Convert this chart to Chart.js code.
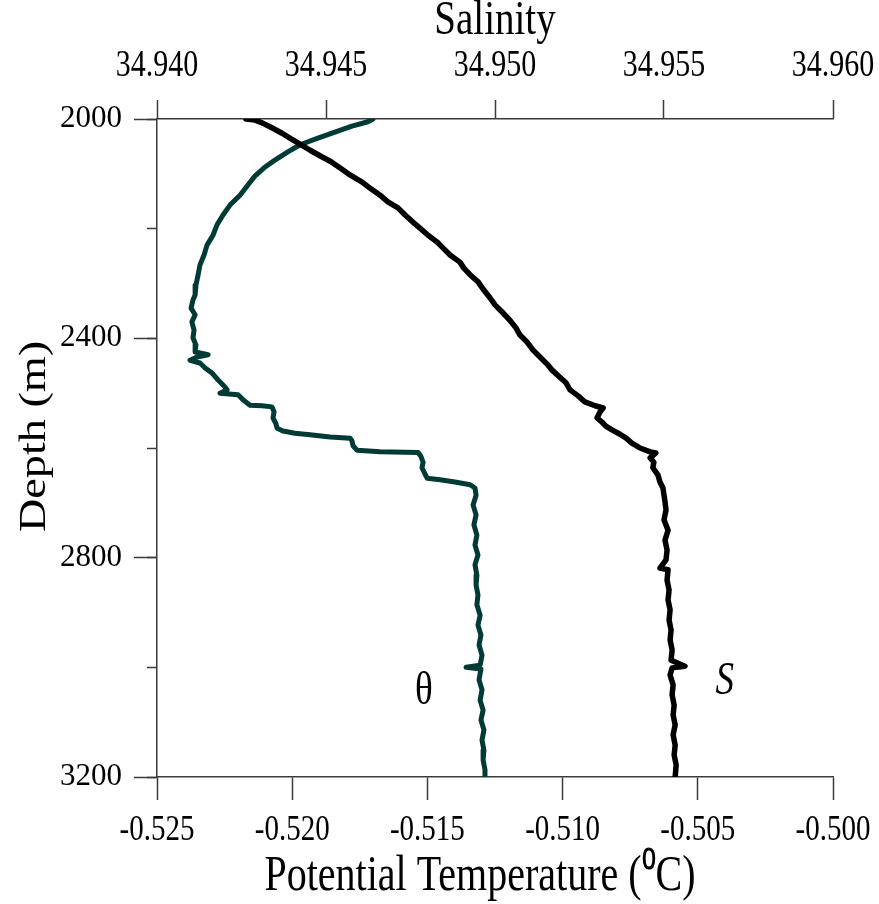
<!DOCTYPE html>
<html>
<head>
<meta charset="utf-8">
<script src="https://cdn.jsdelivr.net/npm/chart.js@4.4.1/dist/chart.umd.min.js"></script>
<style>
html,body{margin:0;padding:0;background:#ffffff;}
#wrap{width:879px;height:904px;position:relative;}
</style>
</head>
<body>
<div id="wrap"><canvas id="c"></canvas></div>
<script>
// ---------------- DATA ----------------
// Potential temperature profile (bottom axis)
const thetaDepth = [
  2000,2005,2013,2024,2035,2047,2060,2075,2089,2104,
  2120,2139,2157,2175,2193,2212,2230,2248,2266,2284,
  2303,2321,2330,2345,2357,2370,2385,2399,2412,2425,
  2430,2434,2440,2445,2454,2463,2476,2487,2494,2500,
  2503,2512,2522,2523,2525,2534,2545,2556,2564,2569,
  2573,2576,2580,2582,2587,2596,2604,2607,2608,2615,
  2626,2636,2647,2655,2658,2662,2667,2673,2686,2704,
  2722,2740,2759,2777,2795,2813,2832,2850,2868,2886,
  2905,2923,2941,2959,2978,2996,3000,3003,3023,3041,
  3060,3078,3096,3114,3133,3151,3169,3187,3200
];
const thetaValues = [
  -0.51701,-0.51720,-0.51779,-0.51842,-0.51905,-0.51971,-0.52016,-0.52064,-0.52104,-0.52138,
  -0.52163,-0.52193,-0.52230,-0.52256,-0.52278,-0.52293,-0.52315,-0.52326,-0.52341,-0.52348,
  -0.52356,-0.52359,-0.52367,-0.52374,-0.52359,-0.52371,-0.52363,-0.52367,-0.52356,-0.52359,
  -0.52311,-0.52352,-0.52378,-0.52341,-0.52322,-0.52297,-0.52274,-0.52252,-0.52241,-0.52267,
  -0.52200,-0.52182,-0.52156,-0.52112,-0.52075,-0.52067,-0.52071,-0.52060,-0.52056,-0.52034,
  -0.51990,-0.51934,-0.51860,-0.51786,-0.51779,-0.51775,-0.51760,-0.51675,-0.51535,-0.51524,
  -0.51516,-0.51520,-0.51509,-0.51501,-0.51453,-0.51398,-0.51342,-0.51324,-0.51320,-0.51331,
  -0.51320,-0.51328,-0.51317,-0.51324,-0.51313,-0.51324,-0.51317,-0.51320,-0.51313,-0.51317,
  -0.51305,-0.51313,-0.51302,-0.51309,-0.51298,-0.51305,-0.51357,-0.51302,-0.51309,-0.51298,
  -0.51305,-0.51294,-0.51302,-0.51291,-0.51298,-0.51291,-0.51294,-0.51287,-0.51287
];
// Salinity profile (top axis)
const salDepth = [
  2000,2002,2007,2016,2026,2035,2046,2057,2067,2078,
  2089,2102,2115,2126,2139,2151,2162,2175,2188,2199,
  2212,2224,2235,2248,2261,2272,2284,2297,2312,2326,
  2339,2352,2367,2381,2394,2407,2421,2434,2447,2458,
  2471,2481,2494,2505,2516,2523,2527,2534,2545,2553,
  2560,2567,2575,2582,2591,2600,2607,2609,2618,2626,
  2636,2649,2662,2673,2686,2698,2713,2731,2750,2768,
  2786,2804,2819,2822,2841,2859,2877,2895,2914,2932,
  2950,2968,2987,2998,3001,3014,3032,3050,3069,3087,
  3105,3123,3142,3160,3178,3200
];
const salValues = [
  34.94263,34.94290,34.94311,34.94340,34.94370,34.94393,34.94423,34.94453,34.94482,34.94515,
  34.94541,34.94571,34.94607,34.94630,34.94660,34.94683,34.94713,34.94734,34.94757,34.94778,
  34.94802,34.94828,34.94846,34.94867,34.94896,34.94908,34.94926,34.94950,34.94967,34.94985,
  34.95000,34.95021,34.95044,34.95062,34.95074,34.95095,34.95112,34.95133,34.95154,34.95169,
  34.95192,34.95210,34.95222,34.95246,34.95266,34.95296,34.95320,34.95311,34.95302,34.95317,
  34.95328,34.95346,34.95370,34.95388,34.95405,34.95429,34.95459,34.95476,34.95459,34.95470,
  34.95467,34.95482,34.95488,34.95497,34.95500,34.95503,34.95506,34.95500,34.95512,34.95503,
  34.95509,34.95506,34.95488,34.95512,34.95509,34.95515,34.95512,34.95518,34.95515,34.95521,
  34.95518,34.95524,34.95521,34.95562,34.95524,34.95518,34.95527,34.95524,34.95530,34.95527,
  34.95533,34.95527,34.95533,34.95530,34.95536,34.95533
];
// Axis ranges / ticks
const depthRange = [2000, 3200];
const depthStep = 200;
const depthLabelEvery = 400;
const tempRange = [-0.525, -0.500];
const salRange = [34.940, 34.960];
const xStep = 0.005;
// Axis titles
const titleTop = 'Salinity';
const titleBottom = 'Potential Temperature (⁰C)   ';
const titleLeft = '  Depth (m)';
// In-plot curve labels
const curveLabels = [
  {text: 'θ', axis: 'xT', value: -0.51513, depth: 3044, italic: false},
  {text: 'S', axis: 'xS', value: 34.95680, depth: 3027, italic: true}
];

// ---------------- STYLE ----------------
const SERIF_T = "'Liberation Serif', 'Times New Roman', serif"; // vertically stretched text
const SERIF = "'Liberation Serif', serif";
const AX = '#3a3a3a';
const STRETCH = 1.25;

const stretchPlugin = {
  id: 'stretchText',
  beforeInit(chart) {
    const ctx = chart.ctx;
    const orig = ctx.fillText.bind(ctx);
    ctx.fillText = function (text, x, y, maxWidth) {
      const call = () => (maxWidth === undefined ? orig(text, x, y) : orig(text, x, y, maxWidth));
      if (String(ctx.font).indexOf('Times') === -1) { call(); return; }
      const m = ctx.getTransform();
      const p = m.transformPoint(new DOMPoint(x, y));
      ctx.save();
      const s = new DOMMatrix().translate(0, p.y).scale(1, STRETCH).translate(0, -p.y);
      ctx.setTransform(s.multiply(m));
      call();
      ctx.restore();
    };
  }
};

const labelPlugin = {
  id: 'curveLabels',
  afterDatasetsDraw(chart) {
    const ctx = chart.ctx;
    ctx.save();
    ctx.fillStyle = '#000';
    ctx.textAlign = 'center';
    ctx.textBaseline = 'middle';
    curveLabels.forEach(l => {
      ctx.font = (l.italic ? 'italic ' : '') + '37px ' + SERIF_T;
      const px = chart.scales[l.axis].getPixelForValue(l.value);
      const py = chart.scales.y.getPixelForValue(l.depth);
      ctx.fillText(l.text, px, py);
    });
    ctx.restore();
  }
};

const thetaData = thetaDepth.map((d, i) => ({x: thetaValues[i], y: d}));
const salData = salDepth.map((d, i) => ({x: salValues[i], y: d}));

new Chart(document.getElementById('c'), {
  type: 'scatter',
  data: {
    datasets: [
      {
        label: 'Salinity',
        data: salData,
        xAxisID: 'xS', yAxisID: 'y',
        showLine: true, borderColor: '#000000', backgroundColor: '#000000',
        borderWidth: 5.5, pointRadius: 0, tension: 0, borderJoinStyle: 'round', borderCapStyle: 'round'
      },
      {
        label: 'Potential Temperature',
        data: thetaData,
        xAxisID: 'xT', yAxisID: 'y',
        showLine: true, borderColor: '#023a35', backgroundColor: '#023a35',
        borderWidth: 5, pointRadius: 0, tension: 0, borderJoinStyle: 'round', borderCapStyle: 'round'
      }
    ]
  },
  options: {
    responsive: true,
    maintainAspectRatio: false,
    animation: false,
    devicePixelRatio: 1,
    layout: {padding: {left: 0, top: 0, bottom: 0, right: 46}},
    plugins: {legend: {display: false}, tooltip: {enabled: false}},
    scales: {
      xS: {
        type: 'linear', position: 'top', min: salRange[0], max: salRange[1],
        ticks: {stepSize: xStep, autoSkip: false, maxRotation: 0, padding: 16, color: '#000',
          font: {family: SERIF_T, size: 30}, callback: v => Number(v).toFixed(3)},
        grid: {drawOnChartArea: false, tickLength: 19, color: AX, tickColor: AX, tickWidth: 1.5},
        border: {display: true, color: AX, width: 1.5},
        title: {display: true, text: titleTop, color: '#000',
          font: {family: SERIF_T, size: 39, lineHeight: 1}, padding: {top: 2, bottom: 0}},
        afterFit(s) { s.height = 119; s.paddingLeft = 0; s.paddingRight = 0; }
      },
      xT: {
        type: 'linear', position: 'bottom', min: tempRange[0], max: tempRange[1],
        ticks: {stepSize: xStep, autoSkip: false, maxRotation: 0, padding: 13, color: '#000',
          font: {family: SERIF_T, size: 29}, callback: v => Number(v).toFixed(3)},
        grid: {drawOnChartArea: false, tickLength: 23, color: AX, tickColor: AX, tickWidth: 1.5},
        border: {display: true, color: AX, width: 1.5},
        title: {display: true, text: titleBottom, color: '#000',
          font: {family: SERIF_T, size: 40, lineHeight: 1}, padding: {top: 0, bottom: 7}},
        afterFit(s) { s.height = 127; s.paddingLeft = 0; s.paddingRight = 0; }
      },
      y: {
        type: 'linear', position: 'left', reverse: true, weight: 1,
        min: depthRange[0], max: depthRange[1],
        ticks: {stepSize: depthStep, autoSkip: false, padding: 12, color: '#000',
          font: {family: SERIF, size: 31},
          callback: v => (v % depthLabelEvery === 0 ? String(v) : '')},
        grid: {drawOnChartArea: false, tickLength: 23, color: AX, tickWidth: 1.5,
          tickColor: c => (c.tick && c.tick.value % depthLabelEvery === 0 ? AX : 'rgba(0,0,0,0)')},
        border: {display: true, color: AX, width: 1.5},
        title: {display: true, text: titleLeft, color: '#000',
          font: {family: SERIF_T, size: 37, lineHeight: 1.2}, padding: {top: 13, bottom: 0}},
        afterFit(s) { s.width = 157; s.paddingTop = 0; s.paddingBottom = 0; }
      },
      yMinor: {
        type: 'linear', position: 'left', reverse: true, weight: 0,
        min: depthRange[0], max: depthRange[1],
        ticks: {stepSize: depthStep, display: false},
        grid: {drawOnChartArea: false, tickLength: 10, color: AX, tickColor: AX, tickWidth: 1.5},
        border: {display: false},
        afterFit(s) { s.width = 0; s.paddingTop = 0; s.paddingBottom = 0; }
      }
    }
  },
  plugins: [stretchPlugin, labelPlugin]
});
</script>
</body>
</html>
